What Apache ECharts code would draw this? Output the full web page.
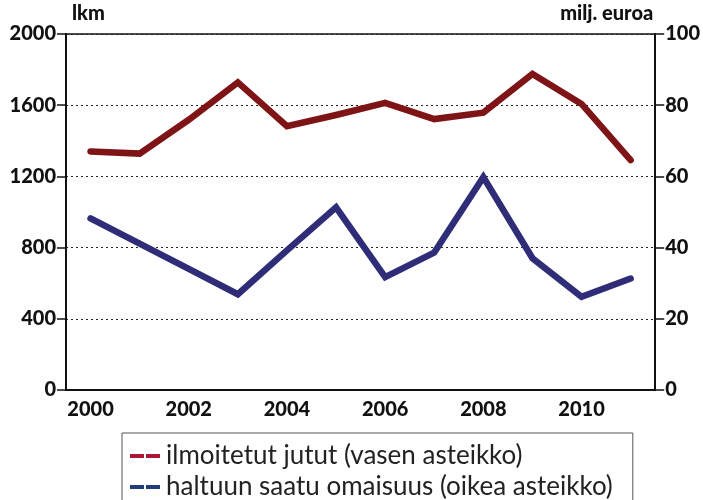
<!DOCTYPE html>
<html lang="fi">
<head>
    <meta charset="UTF-8">
    <title>ilmoitetut jutut ja haltuun saatu omaisuus</title>
    <script src="https://cdn.jsdelivr.net/npm/echarts@6/dist/echarts.min.js"></script>
    <style>
        html, body { margin: 0; padding: 0; background: #fff; }
        #chart { width: 703px; height: 500px; }
    </style>
</head>
<body>
    <div id="chart"></div>
    <script>
        // vuodet
        var years = ['2000', '2001', '2002', '2003', '2004', '2005', '2006', '2007', '2008', '2009', '2010', '2011'];
        // ilmoitetut jutut, lkm (vasen asteikko)
        var jutut = [1340, 1328, 1518, 1728, 1482, 1545, 1613, 1522, 1558, 1775, 1607, 1292];
        // haltuun saatu omaisuus, milj. euroa (oikea asteikko)
        var omaisuus = [48.2, 41.1, 34.0, 26.9, 39.2, 51.3, 31.7, 38.6, 59.8, 37.0, 26.2, 31.3];

        var labelFont = { color: '#111', fontSize: 20, fontWeight: 900, fontFamily: 'Lato' };
        // legendan kaksi viivaa
        var dashIcon = 'path://M0,0H14V4H0Z M16,0H30V4H16Z';

        var myChart = echarts.init(document.getElementById('chart'));
        var option = {
            animation: false,
            grid: {
                left: 66, right: 46, top: 34, bottom: 110,
                show: true, borderColor: '#111', borderWidth: 1.5
            },
            legend: {
                orient: 'vertical',
                left: 122, top: 433, height: 120,
                padding: [10, 20, 10, 8],
                itemGap: 5,
                itemWidth: 32, itemHeight: 4,
                icon: dashIcon,
                backgroundColor: '#fff',
                borderColor: '#555', borderWidth: 1,
                textStyle: { color: '#222', fontSize: 26, fontFamily: 'Lato' },
                data: [
                    { name: 'ilmoitetut jutut (vasen asteikko)', itemStyle: { color: '#a8163a' } },
                    { name: 'haltuun saatu omaisuus (oikea asteikko)', itemStyle: { color: '#223a78' } }
                ]
            },
            xAxis: {
                type: 'category',
                data: years,
                boundaryGap: true,
                axisLine: { lineStyle: { color: '#111', width: 2 } },
                axisTick: { interval: 0, length: 9, lineStyle: { color: '#111', width: 1.5 } },
                axisLabel: Object.assign({ interval: 1, margin: 10 }, labelFont)
            },
            yAxis: [
                {
                    type: 'value', min: 0, max: 2000, interval: 400,
                    name: 'lkm', nameLocation: 'end', nameGap: 10,
                    nameTextStyle: Object.assign({ align: 'left', padding: [0, 0, 0, 6] }, labelFont),
                    axisLine: { show: true, lineStyle: { color: '#111', width: 2 } },
                    axisTick: { show: true, length: 9, lineStyle: { color: '#111', width: 1.5 } },
                    axisLabel: Object.assign({ margin: 10, formatter: function (v) { return String(v); } }, labelFont),
                    splitLine: { show: true, lineStyle: { color: '#222', type: [2, 3], width: 1 } }
                },
                {
                    type: 'value', min: 0, max: 100, interval: 20,
                    name: 'milj. euroa', nameLocation: 'end', nameGap: 10,
                    nameTextStyle: Object.assign({ align: 'right', padding: [0, 2, 0, 0] }, labelFont),
                    axisLine: { show: true, lineStyle: { color: '#111', width: 2 } },
                    axisTick: { show: true, length: 9, lineStyle: { color: '#111', width: 1.5 } },
                    axisLabel: Object.assign({ margin: 10 }, labelFont),
                    splitLine: { show: false }
                }
            ],
            series: [
                {
                    name: 'ilmoitetut jutut (vasen asteikko)',
                    type: 'line',
                    yAxisIndex: 0,
                    data: jutut,
                    symbol: 'none',
                    color: '#7f1416',
                    lineStyle: { color: '#7f1416', width: 6.5, cap: 'round', join: 'miter' }
                },
                {
                    name: 'haltuun saatu omaisuus (oikea asteikko)',
                    type: 'line',
                    yAxisIndex: 1,
                    data: omaisuus,
                    symbol: 'none',
                    color: '#302d78',
                    lineStyle: { color: '#302d78', width: 6.5, cap: 'round', join: 'miter' }
                }
            ]
        };
        myChart.setOption(option);
    </script>
</body>
</html>
